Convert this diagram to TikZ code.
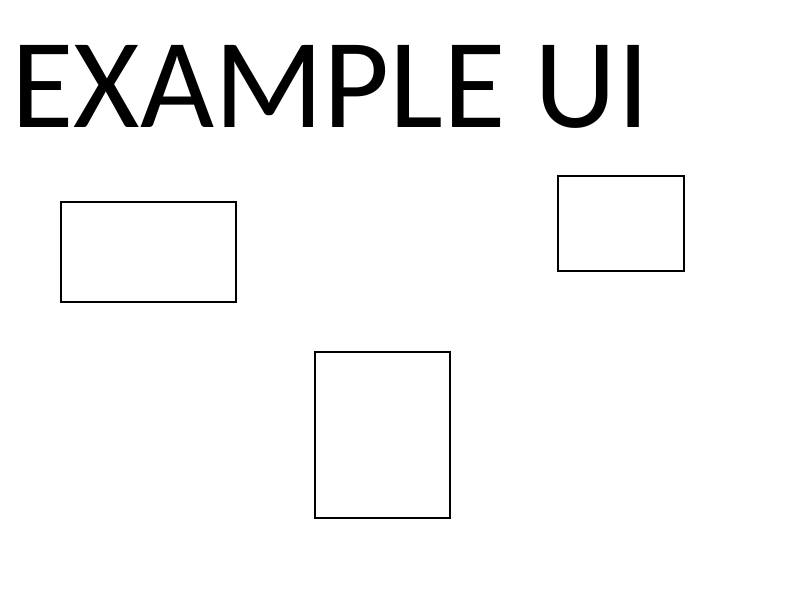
\documentclass[tikz,border=0pt]{standalone}
\usepackage{fontspec}
\newfontfamily\uifont{Carlito}

\begin{document}
\begin{tikzpicture}[x = 0.025cm, y = -0.025cm,
	box/.style = {draw, line width = 1.4pt, inner sep = 0, outer sep = 0}]

	% Canvas
	
	\useasboundingbox (0, 0) rectangle (800, 600);

	% Title
	
	\node [anchor = base west, inner sep = 0] (title) at (11, 127)
		{\uifont\fontsize{91}{109}\selectfont EXAMPLE UI};

	% Boxes
	
	\node [box, minimum width = 4.375cm, minimum height = 2.5cm] (boxleft) at (148.5, 252) {};
	\node [box, minimum width = 3.15cm, minimum height = 2.375cm] (boxright) at (621, 223.5) {};
	\node [box, minimum width = 3.375cm, minimum height = 4.15cm] (boxbottom) at (382.5, 435) {};

\end{tikzpicture}
\end{document}
